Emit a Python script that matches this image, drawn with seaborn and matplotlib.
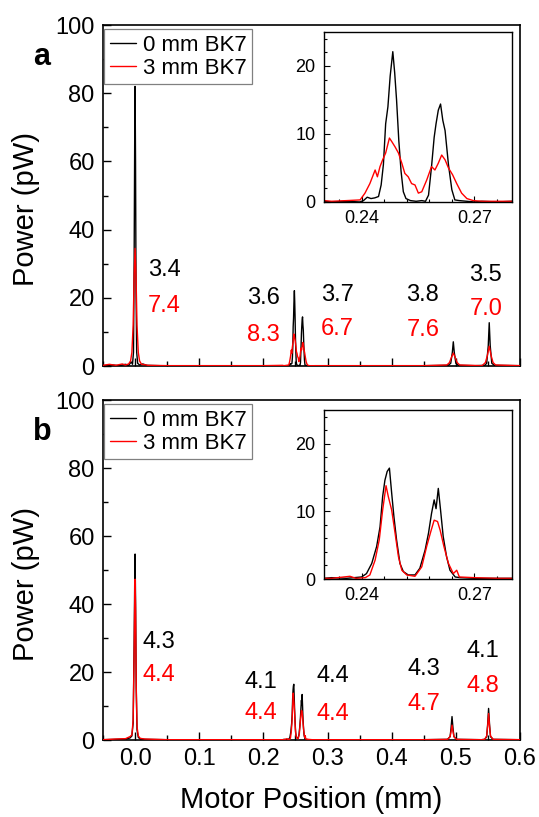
import pandas as pd
import matplotlib.pyplot as plt
import seaborn as sns
from matplotlib.ticker import MultipleLocator

# ==========================================
# Data (Motor Position in mm, Power in pW)
# ==========================================

# --- panel a, 0 mm BK7 (black) ---
a0_left_x = [-0.05, -0.035, -0.025, -0.015, -0.010, -0.006, -0.004, -0.0025, -0.0015, -0.0005,
             0.0, 0.0007, 0.0015, 0.0025, 0.004, 0.007, 0.012, 0.018, 0.04, 0.1, 0.2, 0.23]
a0_left_y = [0.1, 0.3, 0.1, 0.5, 0.2, 1.2, 0.5, 4, 30, 70,
             82, 60, 22, 4, 0.8, 0.3, 0.6, 0.2, 0.1, 0.1, 0.1, 0.1]
a0_mid_x = [0.232, 0.236, 0.2395, 0.2405, 0.2415, 0.2425, 0.2435, 0.2445, 0.2452, 0.2458,
            0.2464, 0.2470, 0.2476, 0.2483, 0.2488, 0.2493, 0.2499, 0.2505, 0.2511, 0.2518,
            0.2530, 0.2545, 0.2560, 0.2570, 0.2578, 0.2586, 0.2593, 0.2598, 0.2604, 0.2610,
            0.2616, 0.2622, 0.2631, 0.2640, 0.2648, 0.2660, 0.2680, 0.2700, 0.2720, 0.2760]
a0_mid_y = [0.0, 0.1, 0.0, 0.2, 0.7, 0.5, 0.6, 0.8, 2.5, 5.5,
            11.5, 14, 18.5, 22.1, 19, 15, 9, 4.5, 1.5, 0.5,
            0.2, 0.1, 0.2, 0.1, 1, 5.2, 9.5, 11.5, 13.5, 14.4,
            12, 10.5, 5.5, 1.8, 0.3, 0.2, 0.1, 0.0, 0.1, 0.0]
a0_right_x = [0.28, 0.35, 0.45, 0.488, 0.492, 0.4945, 0.496, 0.4975, 0.500, 0.504,
              0.53, 0.545, 0.548, 0.5505, 0.552, 0.5535, 0.556, 0.560, 0.6]
a0_right_y = [0.1, 0.1, 0.1, 0.2, 0.8, 4, 7.1, 4, 0.8, 0.2,
              0.1, 0.2, 0.8, 6, 12.7, 6, 0.8, 0.2, 0.1]

# --- panel a, 3 mm BK7 (red) ---
a3_left_x = [-0.05, -0.04, -0.03, -0.02, -0.015, -0.010, -0.007, -0.005, -0.003, -0.0015,
             0.0, 0.0015, 0.003, 0.005, 0.007, 0.010, 0.015, 0.02, 0.05, 0.2, 0.23]
a3_left_y = [0.2, 0.5, 0.2, 0.6, 0.3, 0.6, 1.5, 4, 12, 26,
             34.5, 26, 12, 4, 1.5, 0.5, 0.4, 0.2, 0.1, 0.1, 0.2]
a3_mid_x = [0.232, 0.236, 0.2396, 0.2409, 0.2422, 0.2436, 0.2442, 0.2449, 0.2456, 0.2464,
            0.2474, 0.2480, 0.2489, 0.2498, 0.2507, 0.2515, 0.2524, 0.2533, 0.2542, 0.2551,
            0.2560, 0.2573, 0.2586, 0.2595, 0.2604, 0.2613, 0.2622, 0.2631, 0.2642, 0.2653,
            0.2666, 0.2680, 0.2697, 0.2720, 0.2760]
a3_mid_y = [0.1, 0.2, 0.3, 1.3, 2.7, 4.7, 3.7, 5.2, 6.2, 7.2,
            9.4, 8.9, 8.1, 7.2, 5.7, 4.2, 3.7, 2.7, 2.5, 1.3,
            1.5, 3.2, 5.2, 4.7, 5.7, 6.9, 6.2, 5.0, 4.0, 2.7,
            1.3, 0.5, 0.2, 0.1, 0.1]
a3_right_x = [0.28, 0.45, 0.486, 0.490, 0.493, 0.496, 0.499, 0.502, 0.506,
              0.54, 0.542, 0.546, 0.549, 0.552, 0.555, 0.558, 0.562, 0.6]
a3_right_y = [0.1, 0.1, 0.3, 1, 2.5, 3.8, 2.5, 1, 0.3,
              0.1, 0.3, 1, 3, 5.8, 3, 1, 0.3, 0.1]

# --- panel b, 0 mm BK7 (black) ---
b0_left_x = [-0.05, -0.03, -0.015, -0.008, -0.005, -0.003, -0.0015, -0.0005, 0.0, 0.0008,
             0.0018, 0.003, 0.005, 0.008, 0.015, 0.05, 0.2, 0.23]
b0_left_y = [0.1, 0.2, 0.3, 0.6, 1.2, 5, 28, 48, 54.7, 40,
             15, 3, 0.8, 0.3, 0.2, 0.1, 0.1, 0.1]
b0_mid_x = [0.232, 0.236, 0.2400, 0.2413, 0.2427, 0.2440, 0.2449, 0.2456, 0.2462, 0.2468,
            0.2474, 0.2480, 0.2486, 0.2493, 0.2502, 0.2511, 0.2524, 0.2542, 0.2555, 0.2569,
            0.2578, 0.2586, 0.2593, 0.2598, 0.2604, 0.2610, 0.2617, 0.2626, 0.2635, 0.2649,
            0.2662, 0.2700, 0.2760]
b0_mid_y = [0.2, 0.1, 0.3, 0.8, 2.3, 4.8, 7.7, 12.2, 14.6, 15.9,
            16.4, 12.7, 9.2, 5.8, 2.3, 1.1, 0.6, 0.6, 1.6, 4.3,
            6.8, 9.7, 11.7, 10.4, 13.4, 10.2, 6.3, 3.3, 1.3, 0.3,
            0.2, 0.1, 0.1]
b0_right_x = [0.28, 0.45, 0.487, 0.491, 0.4925, 0.494, 0.4955, 0.497, 0.501,
              0.54, 0.545, 0.548, 0.5495, 0.551, 0.5525, 0.554, 0.558, 0.6]
b0_right_y = [0.1, 0.1, 0.2, 1, 3.5, 6.9, 3.5, 1, 0.2,
              0.1, 0.2, 1, 4.5, 9.3, 4.5, 1, 0.2, 0.1]

# --- panel b, 3 mm BK7 (red) ---
b3_left_x = [-0.05, -0.03, -0.015, -0.008, -0.005, -0.003, -0.0015, -0.0005, 0.0, 0.0008,
             0.0018, 0.003, 0.005, 0.008, 0.015, 0.05, 0.2, 0.23]
b3_left_y = [0.1, 0.3, 0.4, 1.0, 1.5, 6, 25, 42, 47.3, 38,
             16, 4, 1.2, 0.5, 0.3, 0.1, 0.1, 0.1]
b3_mid_x = [0.232, 0.2369, 0.2385, 0.2410, 0.2422, 0.2436, 0.2447, 0.2456, 0.2465, 0.2471,
            0.2480, 0.2489, 0.2498, 0.2507, 0.2520, 0.2542, 0.2560, 0.2573, 0.2584, 0.2593,
            0.2602, 0.2609, 0.2619, 0.2631, 0.2644, 0.2653, 0.2660, 0.2700, 0.2760]
b3_mid_y = [0.1, 0.4, 0.1, 0.2, 0.6, 2.8, 5.8, 10.2, 13.8, 12.2,
            10.2, 6.8, 3.3, 1.3, 0.6, 0.4, 1.8, 4.8, 7.0, 8.7,
            8.5, 7.2, 4.8, 2.3, 0.8, 1.3, 0.3, 0.2, 0.1]
b3_right_x = [0.28, 0.45, 0.487, 0.491, 0.4925, 0.494, 0.4955, 0.497, 0.501,
              0.54, 0.545, 0.548, 0.5495, 0.551, 0.5525, 0.554, 0.558, 0.6]
b3_right_y = [0.1, 0.1, 0.2, 1, 2.5, 4.4, 2.5, 1, 0.2,
              0.1, 0.2, 1.2, 4, 7.8, 4, 1.2, 0.2, 0.1]

# --- peak annotations (black = 0 mm, red = 3 mm) ---
a_txt_black = ["3.4", "3.6", "3.7", "3.8", "3.5"]
a_txt_red = ["7.4", "8.3", "6.7", "7.6", "7.0"]
b_txt_black = ["4.3", "4.1", "4.4", "4.3", "4.1"]
b_txt_red = ["4.4", "4.4", "4.4", "4.7", "4.8"]

# text placement (data coords): left x, y of black label, y of red label
a_txt_pos = [(0.020, 28.2, 17.6), (0.174, 19.8, 9.0), (0.290, 20.8, 10.8),
             (0.423, 20.8, 10.5), (0.521, 26.7, 16.7)]
b_txt_pos = [(0.012, 28.9, 19.1), (0.171, 17.1, 7.9), (0.283, 18.7, 7.8),
             (0.425, 20.9, 10.6), (0.516, 26.2, 15.9)]

labels = ["0 mm BK7", "3 mm BK7"]
palette = {"0 mm BK7": "#000000", "3 mm BK7": "#ff0000"}

# ==========================================
# Figure
# ==========================================
sns.set_theme(style="ticks")
plt.rcParams['font.family'] = ['Liberation Sans', 'DejaVu Sans']
plt.rcParams.update({
    'axes.linewidth': 1.2,
    'axes.edgecolor': 'black',
    'axes.labelcolor': 'black',
    'text.color': 'black',
    'xtick.color': 'black',
    'ytick.color': 'black',
})


def make_df(bx, by, rx, ry):
    return pd.DataFrame({
        "pos": bx + rx,
        "power": by + ry,
        "sample": [labels[0]] * len(bx) + [labels[1]] * len(rx),
    })


df_a = make_df(a0_left_x + a0_mid_x + a0_right_x, a0_left_y + a0_mid_y + a0_right_y,
               a3_left_x + a3_mid_x + a3_right_x, a3_left_y + a3_mid_y + a3_right_y)
df_b = make_df(b0_left_x + b0_mid_x + b0_right_x, b0_left_y + b0_mid_y + b0_right_y,
               b3_left_x + b3_mid_x + b3_right_x, b3_left_y + b3_mid_y + b3_right_y)

fig = plt.figure(figsize=(5.39, 8.17), dpi=100)
ax_a = fig.add_axes([0.1911, 0.5520, 0.7737, 0.4174])
ax_b = fig.add_axes([0.1911, 0.0942, 0.7737, 0.4162])
in_a = fig.add_axes([0.6011, 0.7528, 0.3488, 0.2081])
in_b = fig.add_axes([0.6011, 0.2913, 0.3488, 0.2069])

for ax, df, txt_b, txt_r, pos in [(ax_a, df_a, a_txt_black, a_txt_red, a_txt_pos),
                                  (ax_b, df_b, b_txt_black, b_txt_red, b_txt_pos)]:
    sns.lineplot(data=df, x="pos", y="power", hue="sample", hue_order=labels,
                 palette=palette, estimator=None, sort=False, lw=1.0, zorder=3, ax=ax)
    ax.set_xlim(-0.05, 0.6)
    ax.set_ylim(0, 100)
    ax.xaxis.set_major_locator(MultipleLocator(0.1))
    ax.xaxis.set_minor_locator(MultipleLocator(0.05))
    ax.yaxis.set_major_locator(MultipleLocator(20))
    ax.yaxis.set_minor_locator(MultipleLocator(10))
    ax.tick_params(which="both", direction="in", top=False, right=False, width=1)
    ax.tick_params(which="major", length=6, labelsize=17, pad=6)
    ax.tick_params(which="minor", length=3.5)
    ax.set_xlabel("")
    ax.set_ylabel("Power (pW)", fontsize=21)
    ax.yaxis.set_label_coords(-0.152, 0.46)
    for (tx, yb, yr), sb, sr in zip(pos, txt_b, txt_r):
        ax.text(tx, yb, sb, color="#000000", fontsize=17, ha="left", va="center")
        ax.text(tx, yr, sr, color="#ff0000", fontsize=17, ha="left", va="center")
    sns.move_legend(ax, "upper left", bbox_to_anchor=(0.003, 0.988), borderaxespad=0,
                    title=None, frameon=True, fancybox=False, edgecolor="#808080",
                    framealpha=1, fontsize=16, handlelength=1.2, handletextpad=0.3,
                    labelspacing=0.1, borderpad=0.25)
    leg = ax.get_legend()
    leg.get_frame().set_linewidth(0.9)
    for h in leg.get_lines():
        h.set_linewidth(1.0)

ax_a.tick_params(labelbottom=False)
ax_b.set_xlabel("Motor Position (mm)", fontsize=21, labelpad=11)

for ax, df in [(in_a, df_a), (in_b, df_b)]:
    sns.lineplot(data=df, x="pos", y="power", hue="sample", hue_order=labels,
                 palette=palette, estimator=None, sort=False, lw=1.0, legend=False, ax=ax)
    ax.set_xlim(0.23, 0.28)
    ax.set_ylim(0, 25)
    ax.xaxis.set_major_locator(MultipleLocator(0.03))
    ax.xaxis.set_minor_locator(MultipleLocator(0.006))
    ax.yaxis.set_major_locator(MultipleLocator(10))
    ax.yaxis.set_minor_locator(MultipleLocator(2))
    ax.tick_params(which="both", direction="in", top=False, right=False, width=0.8)
    ax.tick_params(which="major", length=4, labelsize=13, pad=6)
    ax.tick_params(which="minor", length=2)
    ax.set_xlabel("")
    ax.set_ylabel("")
    for s in ax.spines.values():
        s.set_linewidth(1.0)

fig.text(0.0612, 0.9204, "a", fontsize=22, fontweight="bold", ha="left", va="baseline")
fig.text(0.0612, 0.4614, "b", fontsize=22, fontweight="bold", ha="left", va="baseline")

fig.savefig("out.png", dpi=100)
plt.close()
